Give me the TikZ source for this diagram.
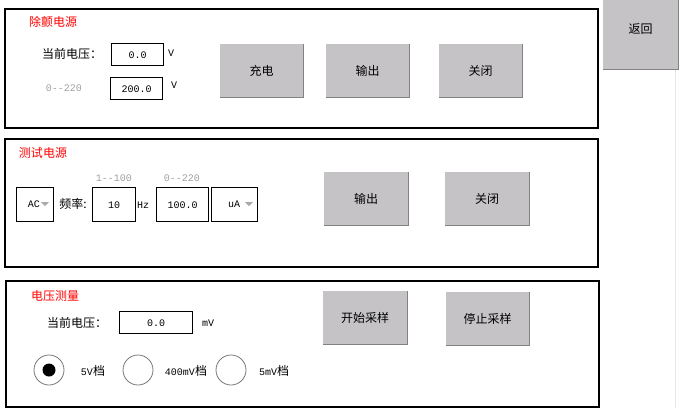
\documentclass[tikz,border=0pt]{standalone}
\usepackage{fontspec}
\setmainfont{Liberation Sans}
\setmonofont{Liberation Mono}
\newfontfamily\cjk{Noto Sans CJK SC}
\newcommand\mycjk{\cjk\fontsize{12}{12}\selectfont}
\newcommand\mymono{\ttfamily\fontsize{10}{10}\selectfont}
\newcommand\myhint{\ttfamily\fontsize{10}{10}\selectfont}
\definecolor{btnfill}{RGB}{197,195,198}
\definecolor{btnedge}{RGB}{130,130,130}
\definecolor{titlered}{RGB}{255,0,0}
\definecolor{hintgray}{RGB}{160,160,160}
\definecolor{radiogray}{RGB}{120,120,120}
\definecolor{trigray}{RGB}{170,170,170}
\definecolor{faint}{RGB}{230,230,230}
\begin{document}
\begin{tikzpicture}[x=1pt,y=-1pt,
 panel/.style={draw=black, line width=1.5pt, anchor=north west, inner sep=0pt},
 btn/.style={fill=btnfill, anchor=north west, inner sep=0pt, minimum width=83pt, minimum height=53pt, font=\mycjk},
 field/.style={draw=black, line width=1.4pt, fill=white, anchor=north west, inner sep=0pt, font=\mymono},
 title/.style={text=titlered, font=\mycjk, inner sep=0pt},
 lbl/.style={font=\mycjk, inner sep=0pt},
 unit/.style={font=\mymono, inner sep=0pt},
 hint/.style={text=hintgray, font=\myhint, inner sep=0pt},
 radio/.style={circle, draw=radiogray, line width=0.8pt, minimum size=30pt, inner sep=0pt},
 dot/.style={circle, fill=black, minimum size=13pt, inner sep=0pt},
 shade/.style={draw=btnedge, line width=1.2pt},
 tri/.style={fill=trigray}]
\useasboundingbox (0,0) rectangle (680,408);
\fill[white] (0,0) rectangle (680,408);
\draw[faint, line width=1pt] (675,69) -- (675,408);

% ---------- panel 1 ----------
\node[panel, minimum width=593pt, minimum height=119pt] (p1) at (4,8) {};
\node[title] (t1) at (53,22) {除颤电源};
\node[lbl] (l1) at (72,54) {当前电压：};
\node[field, minimum width=52pt, minimum height=22pt] (f1) at (111,43) {0.0};
\node[unit] (u1) at (171,53) {V};
\node[hint] (h1) at (64,88) {0-{}-220};
\node[field, minimum width=52pt, minimum height=22pt] (f2) at (110,77) {200.0};
\node[unit] (u2) at (174,85) {V};
\node[btn] (b1) at (220,44) {充电};
\node[btn] (b2) at (326,44) {输出};
\node[btn] (b3) at (439,44) {关闭};
\node[btn, minimum width=75pt, minimum height=80pt] (b0) at (603,-11) {返回};

% ---------- panel 2 ----------
\node[panel, minimum width=593pt, minimum height=128pt] (p2) at (4,138) {};
\node[title] (t2) at (43,153) {测试电源};
\node[field, minimum width=37pt, minimum height=34pt] (ac) at (16,187) {};
\node[unit] (actext) at (34,204) {AC};
\fill[tri] (41,202) -- (49,202) -- (45,206) -- cycle;
\node[lbl] (l2) at (73,204) {频率:};
\node[hint] (h2) at (114,178) {1-{}-100};
\node[field, minimum width=43pt, minimum height=34pt] (f3) at (92,187) {10};
\node[unit] (u3) at (143,205) {Hz};
\node[hint] (h3) at (182,178) {0-{}-220};
\node[field, minimum width=52pt, minimum height=34pt] (f4) at (156,187) {100.0};
\node[field, minimum width=46pt, minimum height=34pt] (ua) at (211,187) {};
\node[unit] (uatext) at (234,204) {uA};
\fill[tri] (245,202) -- (253,202) -- (249,206) -- cycle;
\node[btn, minimum width=84pt] (b4) at (324,172) {输出};
\node[btn, minimum width=84pt] (b5) at (445,172) {关闭};

% ---------- panel 3 ----------
\node[panel, minimum width=593pt, minimum height=126pt] (p3) at (5,280) {};
\node[title] (t3) at (55,296) {电压测量};
\node[lbl] (l3) at (77,323) {当前电压：};
\node[field, minimum width=73pt, minimum height=22pt] (f5) at (119,311) {0.0};
\node[unit] (u5) at (208,323) {mV};
\node[radio] (r1) at (49,370) {};
\node[dot] (r1dot) at (49,370) {};
\node[lbl] (r1l) at (93,371) {\mymono 5V\mycjk 档};
\node[radio] (r2) at (138,370) {};
\node[lbl] (r2l) at (186,371) {\mymono 400mV\mycjk 档};
\node[radio] (r3) at (231,370) {};
\node[lbl] (r3l) at (274,371) {\mymono 5mV\mycjk 档};
\node[btn, minimum width=84pt] (b6) at (323,291) {开始采样};
\node[btn, minimum width=83pt] (b7) at (446,292) {停止采样};

\foreach \b in {b0,b1,b2,b3,b4,b5,b6,b7}
  \draw[shade] (\b.south west) -- (\b.south east) -- (\b.north east);
\end{tikzpicture}
\end{document}
